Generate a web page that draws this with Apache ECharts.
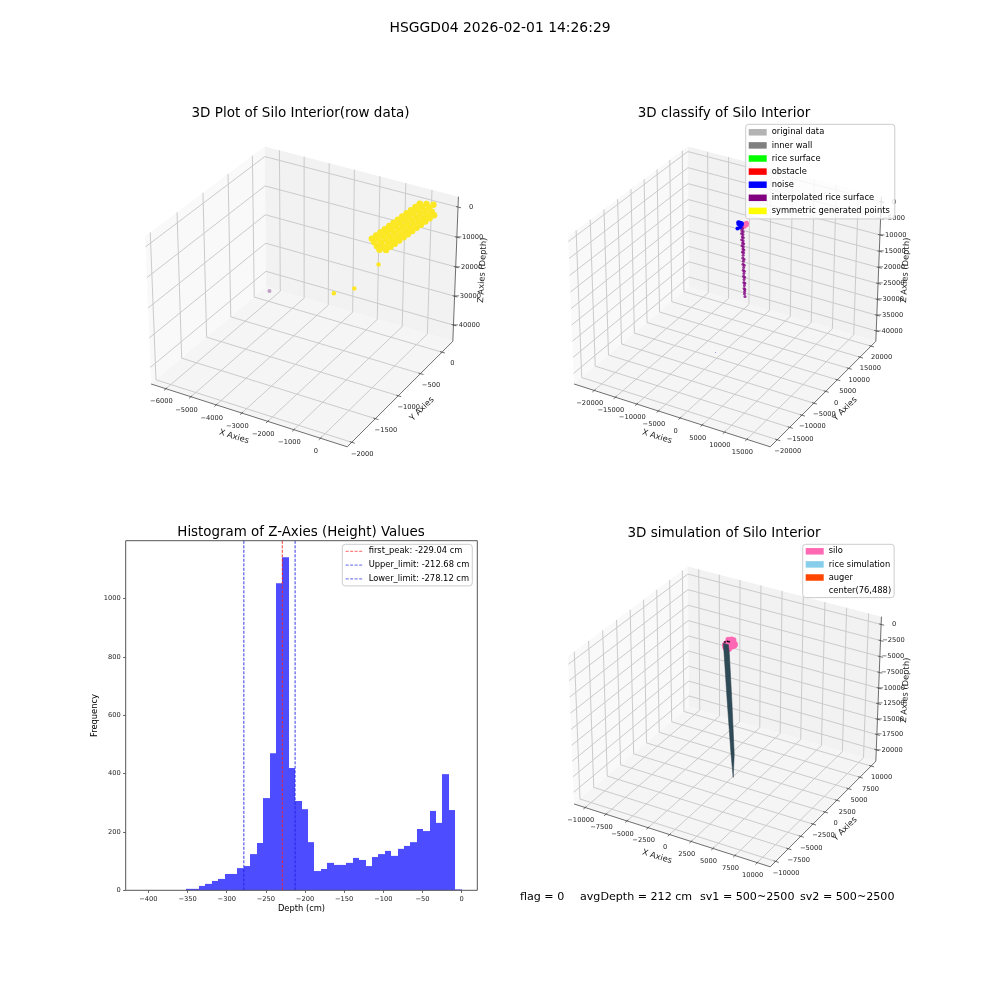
<!DOCTYPE html>
<html>
<head>
<meta charset="utf-8">
<style>html,body{margin:0;padding:0;background:#fff}#main{width:1000px;height:1000px}</style>
<script src="https://cdn.jsdelivr.net/npm/echarts@6/dist/echarts.min.js"></script>
</head>
<body>
<div id="main"></div>
<script>
var FONT = '"DejaVu Sans"';

// histogram: counts of the occupied bins, left to right
var histCounts = [5, 5, 15, 22, 32, 39, 56, 56, 76, 83, 124, 162, 316, 470, 1052, 1141, 419, 306, 278, 165, 66, 73, 94, 87, 87, 94, 111, 104, 83, 114, 124, 135, 118, 142, 152, 165, 210, 203, 272, 231, 398, 275, 3];
var histFirstEdge = -351.7;
var histBinWidth = 8.18;
var histXTicks = [-400, -350, -300, -250, -200, -150, -100, -50, 0];
var histYTicks = [0, 200, 400, 600, 800, 1000];
var firstPeak = -229.04;
var upperLimit = -212.68;
var lowerLimit = -278.12;

// panel limits and ticks
var p1XTicks = [-6000, -5000, -4000, -3000, -2000, -1000, 0];
var p1YTicks = [-2000, -1500, -1000, -500, 0];
var p1ZTicks = [-40000, -30000, -20000, -10000, 0];
var p2XTicks = [-20000, -15000, -10000, -5000, 0, 5000, 10000, 15000];
var p2YTicks = [-20000, -15000, -10000, -5000, 0, 5000, 10000, 15000, 20000];
var p2ZTicks = [-40000, -35000, -30000, -25000, -20000, -15000, -10000, -5000, 0];
var p4XTicks = [-10000, -7500, -5000, -2500, 0, 2500, 5000, 7500, 10000];
var p4YTicks = [-10000, -7500, -5000, -2500, 0, 2500, 5000, 7500, 10000];
var p4ZTicks = [-20000, -17500, -15000, -12500, -10000, -7500, -5000, -2500, 0];

// raw data, panel 1 [x, y, z]
var rawCloud = [
  [-1265,-214,-12000],[-1156,-182,-11115],[-1046,-149,-10230],[-937,-117,-9345],[-828,-84,-8460],[-718,-52,-7575],[-609,-20,-6690],
  [-500,13,-5805],[-391,45,-4920],[-281,78,-4035],[-172,110,-3150],[-63,142,-2265],[47,175,-1380],[156,207,-495],
  [-1160,-214,-13050],[-1051,-182,-12165],[-941,-149,-11280],[-832,-117,-10395],[-723,-84,-9510],[-613,-52,-8625],[-504,-20,-7740],
  [-395,13,-6855],[-286,45,-5970],[-176,78,-5085],[-67,110,-4200],[42,142,-3315],[152,175,-2430],
  [-1370,-214,-10950],[-1261,-182,-10065],[-1151,-149,-9180],[-1042,-117,-8295],[-933,-84,-7410],[-823,-52,-6525],[-714,-20,-5640],
  [-605,13,-4755],[-496,45,-3870],[-386,78,-2985],[-277,110,-2100],[-168,142,-1215],[-58,175,-330],
  [-961,-182,-13065],[-851,-149,-12180],[-742,-117,-11295],[-633,-84,-10410],[-523,-52,-9525],[-414,-20,-8640],
  [-305,13,-7755],[-196,45,-6870],[-86,78,-5985],[23,110,-5100],[132,142,-4215],[242,175,-3330],
  [-1460,-214,-10050],[-1351,-182,-9165],[-1241,-149,-8280],[-1132,-117,-7395],[-1023,-84,-6510],[-913,-52,-5625],
  [-804,-20,-4740],[-695,13,-3855],[-586,45,-2970],[-476,78,-2085],[-367,110,-1200],[-258,142,-315]
];
var rawOutliers = [[-892,-386,-15000],[-1774,-408,-25000],[-2709,-332,-30000]];
var rawDeep = [[-5756,-103,-40000]];

// classified data, panel 2
var classifiedSilo = [[1100,488,-100],[1500,488,-100],[1300,900,0],[1300,100,-400]];
var noisePoints = [[-300,488,0],[0,488,0],[250,488,0],[500,488,0],[-300,488,-500],[0,488,-500],[250,488,-500],[500,488,-500],[-483,488,-1942],[60,488,-1400]];
var noiseStray = [[-4253,-1762,-40000]];
var interpolated = [
  [400,488,-1272],[700,488,-1500],[500,488,-2180],[800,488,-2400],[450,488,-3088],[760,488,-3300],[620,488,-3996],[850,488,-4200],
  [480,488,-4904],[800,488,-5100],[700,488,-5812],[930,488,-6000],[560,488,-6720],[860,488,-6900],[760,488,-7628],[990,488,-7800],
  [640,488,-8536],[920,488,-8700],[830,488,-9444],[730,488,-10352],[1030,488,-10600],[880,488,-11260],[790,488,-12168],[1080,488,-12400],
  [950,488,-13076],[860,488,-13984],[1120,488,-14200],[1000,488,-14892],[930,488,-15800],[1170,488,-16000],[1060,488,-16708],[1010,488,-17616],
  [1230,488,-17800],[1130,488,-18524],[1080,488,-19432],[1250,488,-19700],[1190,488,-20340],[1160,488,-21000],[1293,488,-21860]
];

// simulation, panel 4
var siloRing = [[576,488,-400],[538,679,-400],[430,842,-400],[267,950,-400],[76,988,-400],[-115,950,-400],[-278,842,-400],[-386,679,-400],[-424,488,-400],[-386,297,-400],[-278,134,-400],[-115,26,-400],[76,-12,-400],[267,26,-400],[430,134,-400],[538,297,-400],[76,488,-400],[300,488,-400],[-150,488,-400],
  [76,800,200],[-200,600,200],[300,800,200],[-200,200,-1000],[76,300,-1000],[-400,300,-800]];
var riceOutline = [[-708,488,-490],[-626,488,-1757],[-240,488,-9530],[193,488,-17520],[462,488,-21300],[579,488,-17520],[310,488,-9530],[-6,488,-1757],[-123,488,-490]];
var centerDots = [[-217,488,0],[-41,488,0],[-509,488,-200]];

var legend2Names = ['original data', 'inner wall', 'rice surface', 'obstacle', 'noise', 'interpolated rice surface', 'symmetric generated points'];
var legend2Colors = ['#b3b3b3', '#808080', '#00ff00', '#ff0000', '#0000ff', '#800080', '#ffff00'];

var panels = [
  {xLim: [-6600, 1000], yLim: [-2094, 259], zLim: [-45700, 3400], xTicks: p1XTicks, yTicks: p1YTicks, zTicks: p1ZTicks, left: 79.3, top: 65.6},
  {xLim: [-24800, 20130], yLim: [-22800, 22200], zLim: [-43340, 1566], xTicks: p2XTicks, yTicks: p2YTicks, zTicks: p2ZTicks, left: 502.3, top: 65.6},
  {xLim: [-11350, 11450], yLim: [-11060, 11060], zLim: [-21900, 1200], xTicks: p4XTicks, yTicks: p4YTicks, zTicks: p4ZTicks, left: 502.3, top: 485.6}
];

// same view as matplotlib: elev 30, azim -60, dist 10, box 4:4:3
function project(p, x, y, z) {
  var nx = (x - p.xLim[0]) / (p.xLim[1] - p.xLim[0]) - 0.5;
  var ny = (y - p.yLim[0]) / (p.yLim[1] - p.yLim[0]) - 0.5;
  var nz = ((z - p.zLim[0]) / (p.zLim[1] - p.zLim[0]) - 0.5) * 0.75;
  var u = 0.866025 * nx + 0.5 * ny;
  var v = -0.25 * nx + 0.433013 * ny + 0.866025 * nz;
  var k = 10 / (10 - (0.433013 * nx - 0.75 * ny + 0.5 * nz));
  return [u * k, v * k];
}

function minusSign(v) {
  return String(v).replace('-', '\u2212');
}

function frameSeries(p, axisIndex) {
  var x0 = p.xLim[0], x1 = p.xLim[1], y0 = p.yLim[0], y1 = p.yLim[1], z0 = p.zLim[0], z1 = p.zLim[1];
  var rx = x1 - x0, ry = y1 - y0;
  var P = function (x, y, z) { return project(p, x, y, z); };
  var lines = [];
  var addLine = function (a, b, kind) { lines.push([a[0], a[1], b[0], b[1], kind]); };

  p.xTicks.forEach(function (t) {
    addLine(P(t, y0, z0), P(t, y1, z0), 0);
    addLine(P(t, y1, z0), P(t, y1, z1), 0);
    addLine(P(t, y0 - 0.015 * ry, z0), P(t, y0 + 0.01 * ry, z0), 1);
  });
  p.yTicks.forEach(function (t) {
    addLine(P(x1, t, z0), P(x0, t, z0), 0);
    addLine(P(x0, t, z0), P(x0, t, z1), 0);
    addLine(P(x1 + 0.015 * rx, t, z0), P(x1 - 0.01 * rx, t, z0), 1);
  });
  p.zTicks.forEach(function (t) {
    addLine(P(x0, y0, t), P(x0, y1, t), 0);
    addLine(P(x0, y1, t), P(x1, y1, t), 0);
    addLine(P(x1 - 0.01 * rx, y1, t), P(x1 + 0.015 * rx, y1, t), 1);
  });
  addLine(P(x0, y0, z0), P(x1, y0, z0), 1);
  addLine(P(x1, y0, z0), P(x1, y1, z0), 1);
  addLine(P(x1, y1, z0), P(x1, y1, z1), 1);

  var panes = [
    {fill: '#f9f9f9', pts: [P(x0, y0, z0), P(x0, y1, z0), P(x0, y1, z1), P(x0, y0, z1)]},
    {fill: '#f2f2f2', pts: [P(x0, y1, z0), P(x1, y1, z0), P(x1, y1, z1), P(x0, y1, z1)]},
    {fill: '#f5f5f5', pts: [P(x0, y0, z0), P(x1, y0, z0), P(x1, y1, z0), P(x0, y1, z0)]}
  ];

  // tick labels and axis titles: [u, v, dx, dy], text kept next to them
  var texts = [], textInfo = [];
  var addText = function (pos, dx, dy, str, size, rot) {
    texts.push([pos[0], pos[1], dx, dy]);
    textInfo.push({text: str, size: size, rot: rot});
  };
  p.xTicks.forEach(function (t) { addText(P(t, y0, z0), -4.5, 13, minusSign(t), 6.7, 0); });
  p.yTicks.forEach(function (t) { addText(P(x1, t, z0), 10.5, 11.5, minusSign(t), 6.7, 0); });
  p.zTicks.forEach(function (t) { addText(P(x1, y1, t), 13, 0, minusSign(t), 6.7, 0); });
  addText(P((x0 + x1) / 2, y0, z0), -13, 22, 'X Axies', 8.33, -0.3);
  addText(P(x1, (y0 + y1) / 2, z0), 20, 17, 'Y Axies', 8.33, 0.78);
  addText(P(x1, y1, (z0 + z1) / 2), 27, 0, 'Z Axies (Depth)', 8.33, 1.52);

  return [{
    type: 'custom', silent: true, xAxisIndex: axisIndex, yAxisIndex: axisIndex, z: 1, clip: false,
    data: panes.map(function (d, i) { return [i]; }),
    renderItem: function (params, api) {
      var pane = panes[params.dataIndex];
      return {type: 'polygon', shape: {points: pane.pts.map(function (q) { return api.coord(q); })}, style: {fill: pane.fill, stroke: null}};
    }
  }, {
    type: 'custom', silent: true, xAxisIndex: axisIndex, yAxisIndex: axisIndex, z: 1.1, clip: false,
    data: lines,
    renderItem: function (params, api) {
      var a = api.coord([api.value(0), api.value(1)]);
      var b = api.coord([api.value(2), api.value(3)]);
      var isGrid = api.value(4) === 0;
      return {type: 'line', shape: {x1: a[0], y1: a[1], x2: b[0], y2: b[1]},
        style: {stroke: isGrid ? '#cbcbcb' : '#4a4a4a', lineWidth: isGrid ? 1 : 0.8}};
    }
  }, {
    type: 'custom', silent: true, xAxisIndex: axisIndex, yAxisIndex: axisIndex, z: 1.2, clip: false,
    data: texts,
    renderItem: function (params, api) {
      var a = api.coord([api.value(0), api.value(1)]);
      var info = textInfo[params.dataIndex];
      return {type: 'text', x: a[0] + api.value(2), y: a[1] + api.value(3), rotation: info.rot,
        style: {text: info.text, fill: '#222', font: info.size + 'px ' + FONT, textAlign: 'center', textVerticalAlign: 'middle'}};
    }
  }];
}

function pointSeries(name, p, axisIndex, pts, size, color, opacity, z) {
  return {
    name: name, type: 'scatter', xAxisIndex: axisIndex, yAxisIndex: axisIndex, z: z || 2, silent: true,
    symbolSize: size, clip: false,
    itemStyle: {color: color, opacity: opacity === undefined ? 1 : opacity},
    data: pts.map(function (q) { return project(p, q[0], q[1], q[2]); })
  };
}

function emptySeries(name, color) {
  return {name: name, type: 'scatter', xAxisIndex: 1, yAxisIndex: 1, data: [], itemStyle: {color: color, opacity: 1}};
}

var series = [];
series = series.concat(frameSeries(panels[0], 0), frameSeries(panels[1], 1), frameSeries(panels[2], 3));

// panel 1
series.push(pointSeries('raw cloud', panels[0], 0, rawCloud, 6.5, '#fbe723'));
series.push(pointSeries('raw outliers', panels[0], 0, rawOutliers, 4.5, '#fde725'));
series.push(pointSeries('raw deep', panels[0], 0, rawDeep, 4, '#bf9fc4'));

// panel 2
series.push(pointSeries('silo ring', panels[1], 1, classifiedSilo, 5, '#ff69b4', 1, 2));
series.push(pointSeries('interpolated rice surface', panels[1], 1, interpolated, 3, '#800080', 0.8, 2.1));
series.push(pointSeries('noise', panels[1], 1, noisePoints, 4, '#0000ff', 1, 2.2));
series.push(pointSeries('noise stray', panels[1], 1, noiseStray, 1, '#0000ff', 0.5, 2.2));
legend2Names.forEach(function (n, i) {
  if (n !== 'noise' && n !== 'interpolated rice surface') series.push(emptySeries(n, legend2Colors[i]));
});

// panel 4
series.push(pointSeries('silo', panels[2], 3, siloRing, 5.5, '#ff69b4', 1, 2));
series.push({
  name: 'rice simulation', type: 'custom', xAxisIndex: 3, yAxisIndex: 3, z: 2.1, silent: true, clip: false,
  itemStyle: {color: '#87ceeb'},
  data: [[0]],
  renderItem: function (params, api) {
    var pts = riceOutline.map(function (q) { return api.coord(project(panels[2], q[0], q[1], q[2])); });
    return {type: 'polygon', shape: {points: pts}, style: {fill: '#2f4a57', stroke: '#2a3f4a', lineWidth: 0.5}};
  }
});
series.push(emptySeries('auger', '#ff4500'));
series.push(emptySeries('center(76,488)', 'rgba(0,0,0,0)'));
series.push(pointSeries('center dots', panels[2], 3, centerDots, 1.8, '#000', 1, 2.3));

// histogram
series.push({
  type: 'custom', xAxisIndex: 2, yAxisIndex: 2, z: 2, silent: true,
  data: histCounts.map(function (c, i) { return [histFirstEdge + i * histBinWidth, c]; }),
  renderItem: function (params, api) {
    var a = api.coord([api.value(0), api.value(1)]);
    var b = api.coord([api.value(0) + histBinWidth, 0]);
    var left = Math.round(a[0]), right = Math.round(b[0]);
    return {type: 'rect', shape: {x: left, y: a[1], width: right - left, height: b[1] - a[1]}, style: {fill: '#4d4dff', stroke: null}};
  }
});
function limitLine(name, value, color) {
  return {
    name: name, type: 'line', xAxisIndex: 2, yAxisIndex: 2, z: 3, silent: true, symbol: 'none',
    itemStyle: {color: color},
    lineStyle: {color: color, width: 0.9, type: [3, 1.5]},
    data: [[value, 0], [value, 1198]]
  };
}
var peakName = 'first_peak: ' + firstPeak + ' cm';
var upperName = 'Upper_limit: ' + upperLimit + ' cm';
var lowerName = 'Lower_limit: ' + lowerLimit + ' cm';
series.push(limitLine(peakName, firstPeak, '#ff2020'));
series.push(limitLine(upperName, upperLimit, '#2020e0'));
series.push(limitLine(lowerName, lowerLimit, '#2020e0'));

function hiddenAxis(i) {
  return {type: 'value', gridIndex: i, min: -1, max: 1, show: false};
}

function legendBox(names, left, top, gap, height, padding, extra) {
  var box = {
    data: names, orient: 'vertical', left: left, top: top, z: 10, selectedMode: false,
    itemWidth: 18, itemHeight: height, itemGap: gap, padding: padding,
    backgroundColor: 'rgba(255,255,255,0.8)', borderColor: '#ccc', borderWidth: 1, borderRadius: 3,
    textStyle: {fontFamily: FONT, fontSize: 8.33, color: '#000', lineHeight: 10}
  };
  return Object.assign(box, extra);
}

function titleBox(text, x, y, size, align) {
  return {text: text, left: x, top: y, padding: 0, textAlign: align || 'center',
    textStyle: {fontFamily: FONT, fontSize: size, fontWeight: 'normal', color: '#000'}};
}

var option = {
  animation: false,
  backgroundColor: '#fff',
  title: [
    titleBox('HSGGD04 2026-02-01 14:26:29', 500, 21, 13.9),
    titleBox('3D Plot of Silo Interior(row data)', 300.5, 106, 13.5),
    titleBox('3D classify of Silo Interior', 724, 106, 13.5),
    titleBox('Histogram of Z-Axies (Height) Values', 301, 526, 13.4),
    titleBox('3D simulation of Silo Interior', 724, 526, 13.5),
    titleBox('flag = 0', 520, 892, 11.1, 'left'),
    titleBox('avgDepth = 212 cm', 580, 892, 11.1, 'left'),
    titleBox('sv1 = 500~2500', 700, 892, 11.1, 'left'),
    titleBox('sv2 = 500~2500', 800, 892, 11.1, 'left')
  ],
  legend: [
    legendBox(legend2Names, 745.7, 124.3, 3.1, 6.5, [3, 5, 3, 3], {icon: 'rect', itemStyle: {opacity: 1}}),
    legendBox([peakName, upperName, lowerName], 342.3, 544.3, 3.8, 10, [2, 3, 2, 3], {itemStyle: {color: 'rgba(0,0,0,0)', borderWidth: 0}, lineStyle: {width: 0.7}}),
    legendBox(['silo', 'rice simulation', 'auger', 'center(76,488)'], 802.7, 544.3, 3.1, 6.5, [2, 3, 2, 3], {icon: 'rect', itemStyle: {opacity: 1}})
  ],
  grid: [
    {left: panels[0].left, top: panels[0].top, width: 450, height: 450},
    {left: panels[1].left, top: panels[1].top, width: 450, height: 450},
    {left: 125.7, top: 540.7, width: 351.6, height: 349.6, show: true, borderColor: '#555', borderWidth: 1, z: 5},
    {left: panels[2].left, top: panels[2].top, width: 450, height: 450}
  ],
  xAxis: [
    hiddenAxis(0),
    hiddenAxis(1),
    {
      type: 'value', gridIndex: 2, min: -429, max: 20,
      name: 'Depth (cm)', nameLocation: 'middle', nameGap: 15,
      nameTextStyle: {fontFamily: FONT, fontSize: 8.33, color: '#000'},
      axisLine: {show: false, onZero: false},
      axisTick: {show: true, length: 2.5, customValues: histXTicks, lineStyle: {color: '#333', width: 0.8}},
      axisLabel: {customValues: histXTicks, fontFamily: FONT, fontSize: 6.7, color: '#222', margin: 5, formatter: minusSign},
      splitLine: {show: false}
    },
    hiddenAxis(3)
  ],
  yAxis: [
    hiddenAxis(0),
    hiddenAxis(1),
    {
      type: 'value', gridIndex: 2, min: 0, max: 1198,
      name: 'Frequency', nameLocation: 'middle', nameGap: 27,
      nameTextStyle: {fontFamily: FONT, fontSize: 8.33, color: '#000'},
      axisLine: {show: false, onZero: false},
      axisTick: {show: true, length: 2.5, customValues: histYTicks, lineStyle: {color: '#333', width: 0.8}},
      axisLabel: {customValues: histYTicks, fontFamily: FONT, fontSize: 6.7, color: '#222', margin: 5, formatter: String},
      splitLine: {show: false}
    },
    hiddenAxis(3)
  ],
  series: series
};

var myChart = echarts.init(document.getElementById('main'));
myChart.setOption(option);
</script>
</body>
</html>
